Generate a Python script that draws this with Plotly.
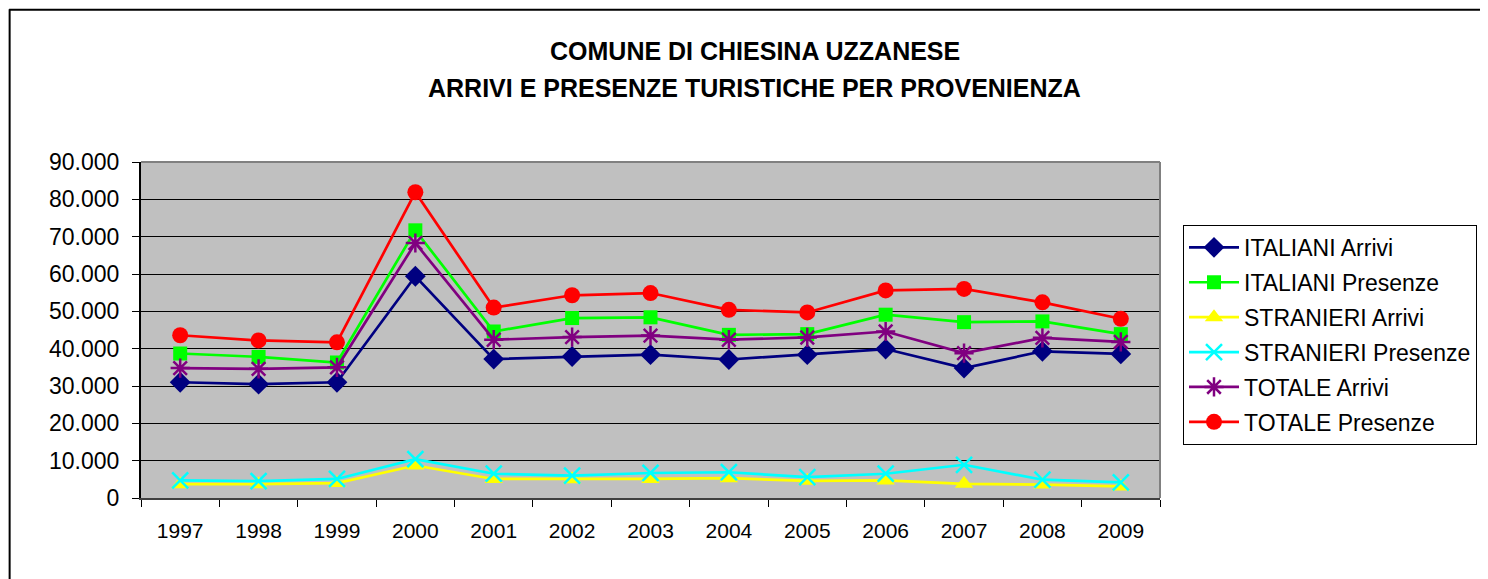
import plotly.graph_objects as go

years = ["1997", "1998", "1999", "2000", "2001", "2002", "2003", "2004", "2005", "2006", "2007", "2008", "2009"]
italiani_arrivi = [31000, 30500, 31000, 59400, 37200, 37900, 38400, 37100, 38400, 39900, 34800, 39300, 38600]
italiani_presenze = [38700, 37800, 36300, 71700, 44600, 48200, 48400, 43700, 43900, 49100, 47100, 47300, 43900]
stranieri_arrivi = [3700, 3700, 4000, 8700, 5100, 5000, 5100, 5300, 4600, 4700, 3800, 3600, 3100]
stranieri_presenze = [4700, 4500, 5100, 10400, 6500, 6000, 6700, 6900, 5600, 6500, 8900, 4900, 4200]
totale_arrivi = [34800, 34600, 35000, 68300, 42400, 43100, 43500, 42400, 43000, 44600, 38800, 42900, 41800]
totale_presenze = [43600, 42200, 41700, 81900, 51000, 54300, 54900, 50400, 49700, 55600, 56000, 52400, 48000]

y_tickvals = [0, 10000, 20000, 30000, 40000, 50000, 60000, 70000, 80000, 90000]
y_ticktext = ["0", "10.000", "20.000", "30.000", "40.000", "50.000", "60.000", "70.000", "80.000", "90.000"]

title_line1 = "COMUNE DI CHIESINA UZZANESE"
title_line2 = "ARRIVI E PRESENZE TURISTICHE PER PROVENIENZA"

FONT = "Arial, 'Liberation Sans', sans-serif"
OFF = 8  # page body margin
W, H = 1488 - OFF, 579 - OFF
L, R, T, B = 141 - OFF, 1161 - OFF, 162 - OFF, 498.5 - OFF

series = [
    ("ITALIANI Arrivi", italiani_arrivi, "#000080", dict(symbol="diamond", size=16, color="#000080")),
    ("ITALIANI Presenze", italiani_presenze, "#00FF00", dict(symbol="square", size=14, color="#00FF00")),
    ("STRANIERI Arrivi", stranieri_arrivi, "#FFFF00", dict(symbol="triangle-up", size=16, color="#FFFF00")),
    ("STRANIERI Presenze", stranieri_presenze, "#00FFFF",
     dict(symbol="x-thin-open", size=16, color="#00FFFF", line=dict(color="#00FFFF", width=2.5))),
    ("TOTALE Arrivi", totale_arrivi, "#800080",
     dict(symbol="asterisk-open", size=16, color="#800080", line=dict(color="#800080", width=2.5))),
    ("TOTALE Presenze", totale_presenze, "#FF0000", dict(symbol="circle", size=16, color="#FF0000")),
]

fig = go.Figure()
for i, (name, vals, col, mk) in enumerate(series):
    fig.add_trace(go.Scatter(
        x=years, y=vals, name=name, mode="lines+markers",
        line=dict(color=col, width=2.7), marker=mk,
        legendgroup=f"g{i}",
    ))

pw = R - L
ph = B - T

def px_x(x):
    # x given in reference-image pixels
    return (x - OFF - L) / pw

def px_y(y):
    return (B - (y - OFF)) / ph

fig.update_layout(
    width=W, height=H,
    margin=dict(l=L, r=W - R, t=T, b=H - B, pad=0),
    paper_bgcolor="white",
    plot_bgcolor="#C0C0C0",
    font=dict(family=FONT, size=21, color="black"),
    showlegend=True,
    legend=dict(
        x=px_x(1183), y=px_y(225), xanchor="left", yanchor="top",
        bgcolor="white", bordercolor="black", borderwidth=1,
        font=dict(family=FONT, size=23, color="black"),
        traceorder="grouped", tracegroupgap=2, itemwidth=50,
    ),
    xaxis=dict(
        type="category", showgrid=False, zeroline=False,
        showline=True, linecolor="#404040", linewidth=2,
        ticks="outside", tickson="boundaries", ticklen=7, tickcolor="black", tickwidth=1,
        tickfont=dict(family=FONT, size=21), ticklabelstandoff=13,
        range=[-0.5, 12.5],
    ),
    yaxis=dict(
        range=[0, 90000], tickvals=y_tickvals, ticktext=y_ticktext,
        showgrid=True, gridcolor="black", gridwidth=1, zeroline=False,
        showline=True, linecolor="black", linewidth=2,
        ticks="outside", ticklen=7, tickcolor="black", tickwidth=1,
        tickfont=dict(family=FONT, size=23), ticklabelstandoff=8,
    ),
    shapes=[
        dict(type="line", xref="paper", yref="paper", x0=0, x1=1, y0=1, y1=1,
             line=dict(color="#808080", width=2), layer="above"),
        dict(type="line", xref="paper", yref="paper", x0=1, x1=1, y0=0, y1=1,
             line=dict(color="#808080", width=2), layer="above"),
        dict(type="line", xref="paper", yref="paper", x0=px_x(9), x1=px_x(1500), y0=px_y(9.5), y1=px_y(9.5),
             line=dict(color="black", width=2)),
        dict(type="line", xref="paper", yref="paper", x0=px_x(9.5), x1=px_x(9.5), y0=px_y(9), y1=px_y(600),
             line=dict(color="black", width=2)),
    ],
    annotations=[
        dict(text="<b>" + title_line1 + "</b>", xref="paper", yref="paper",
             x=px_x(756), y=px_y(51), xanchor="center", yanchor="middle",
             showarrow=False, font=dict(family=FONT, size=25, color="black")),
        dict(text="<b>" + title_line2 + "</b>", xref="paper", yref="paper",
             x=px_x(755), y=px_y(88), xanchor="center", yanchor="middle",
             showarrow=False, font=dict(family=FONT, size=25, color="black")),
    ],
)

fig.write_html("out.html")
